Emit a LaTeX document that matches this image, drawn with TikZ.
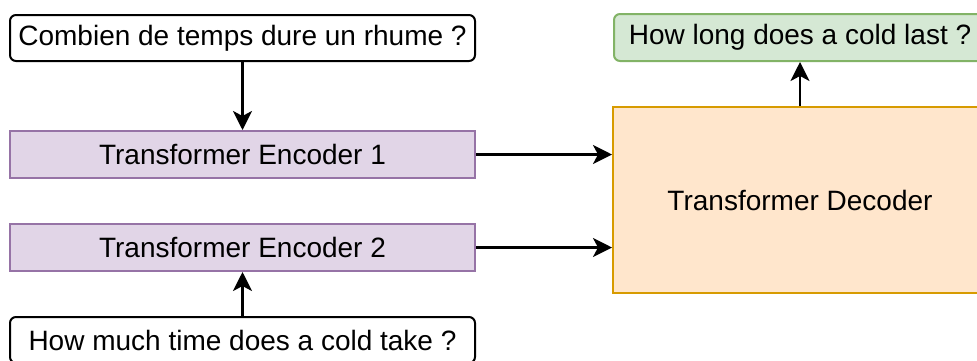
\documentclass[tikz,border=0pt]{standalone}
\usepackage{fontspec}
\setmainfont{Liberation Sans}
\usetikzlibrary{arrows.meta}
\definecolor{purfill}{HTML}{E1D5E7}
\definecolor{purline}{HTML}{9673A6}
\definecolor{orfill}{HTML}{FFE6CC}
\definecolor{orline}{HTML}{D79B00}
\definecolor{grfill}{HTML}{D5E8D4}
\definecolor{grline}{HTML}{82B366}
\begin{document}
\begin{tikzpicture}[x=1pt,y=-1pt,
  box/.style={draw, line width=2pt, inner sep=0pt, font=\fontsize{28}{32}\selectfont},
  question/.style={box, rounded corners=6pt, draw=black, fill=white, minimum width=465pt, minimum height=46pt},
  encbox/.style={box, draw=purline, fill=purfill, minimum width=465pt, minimum height=47pt},
  decbox/.style={box, draw=orline, fill=orfill, minimum width=374pt, minimum height=186pt},
  outbox/.style={box, rounded corners=6pt, draw=grline, fill=grfill, minimum width=372pt, minimum height=47pt},
  conn/.style={line width=2.5pt, -{Stealth[length=19pt,width=19pt,inset=5pt]}}]
\useasboundingbox (0,0) rectangle (977,360);
\clip (0,0) rectangle (977,360);
\node[question] (q1) at (242.5,38) {Combien de temps dure un rhume ?};
\node[encbox] (enc1) at (242.5,154.5) {Transformer Encoder 1};
\node[encbox] (enc2) at (242.5,247.5) {Transformer Encoder 2};
\node[question] (q2) at (242.5,340) {How much time does a cold take ?};
\node[decbox] (dec) at (800,200) {Transformer Decoder};
\node[outbox] (out) at (800,37.5) {How long does a cold last ?};
\draw[conn] (q1) -- (enc1);
\draw[conn] (q2) -- (enc2);
\draw[conn] (enc1.east) -- (enc1.east -| dec.west);
\draw[conn] (enc2.east) -- (enc2.east -| dec.west);
\draw[conn] (dec) -- (out);
\end{tikzpicture}
\end{document}
